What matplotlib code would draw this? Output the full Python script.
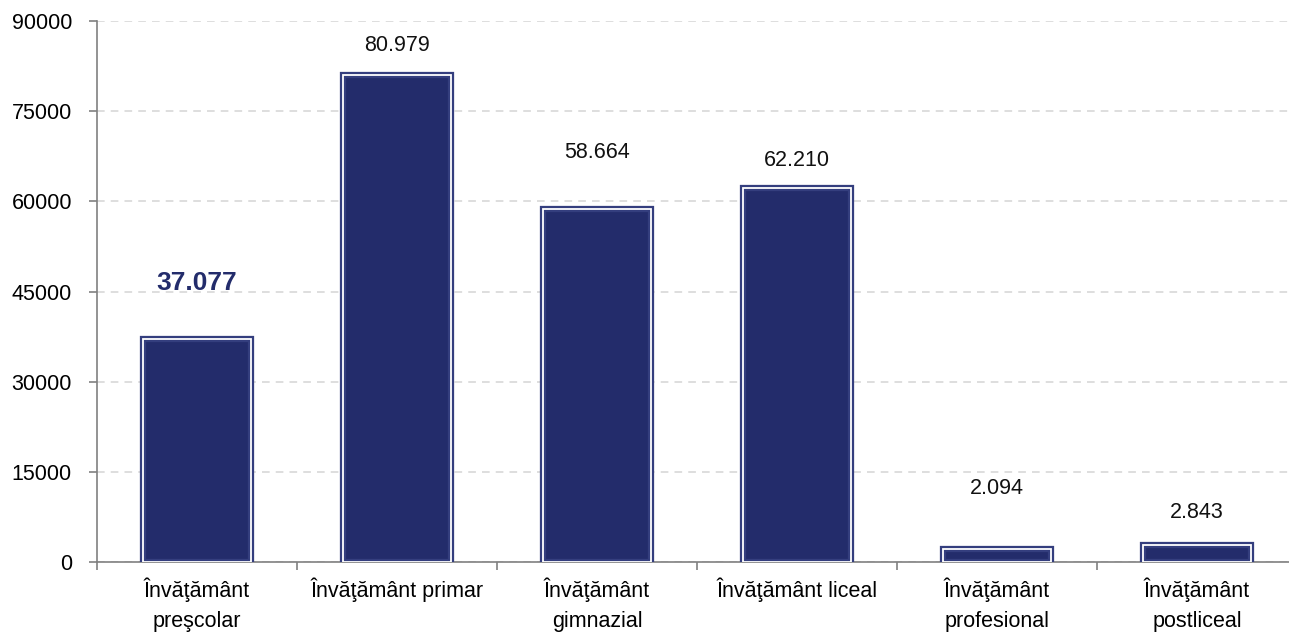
import numpy as np
import matplotlib.pyplot as plt

categories = ["Învăţământ\npreşcolar", "Învăţământ primar", "Învăţământ\ngimnazial",
              "Învăţământ liceal", "Învăţământ\nprofesional", "Învăţământ\npostliceal"]
values = [37077, 80979, 58664, 62210, 2094, 2843]
yticks = [0, 15000, 30000, 45000, 60000, 75000, 90000]

# label offsets above bar tops (pixels)
label_offset = [56, 30, 57, 28, 61, 32]

navy = '#232c6b'
plt.rcParams['font.family'] = ['Liberation Sans Narrow', 'Liberation Sans', 'DejaVu Sans']

fig = plt.figure(figsize=(12.89, 6.41), dpi=100)
ax = fig.add_axes([97 / 1289, 79 / 641, 1200 / 1289, 541 / 641])

x = np.arange(len(values))
ax.bar(x, values, 0.54, color=navy, edgecolor='#343e7e', linewidth=4.5, zorder=3)
ax.bar(x, values, 0.54, color='none', edgecolor='white', linewidth=1.3, zorder=4)

for i, v in enumerate(values):
    txt = f"{v:,}".replace(",", ".")
    if i == 0:
        ax.annotate(txt, (x[i], v), xytext=(0, label_offset[i]), textcoords='offset pixels',
                    ha='center', va='center', fontsize=19, fontweight='bold', color=navy)
    else:
        ax.annotate(txt, (x[i], v), xytext=(0, label_offset[i]), textcoords='offset pixels',
                    ha='center', va='center', fontsize=15.5, color='#111111')

ax.set_xlim(-0.5, len(values) - 0.5)
ax.set_ylim(0, 90000)
ax.set_yticks(yticks)
ax.set_yticklabels([str(t) for t in yticks], fontsize=15.5)
ax.set_xticks(x)
ax.set_xticklabels(categories, fontsize=15.5, linespacing=1.6)
ax.set_xticks(np.arange(-0.5, len(values) + 0.5, 1), minor=True)
ax.tick_params(axis='x', which='major', length=0, pad=11)
ax.tick_params(axis='x', which='minor', length=6, color='#808080', width=1.2)
ax.tick_params(axis='y', length=6, color='#808080', width=1.2, pad=12)

for s in ['top', 'right']:
    ax.spines[s].set_visible(False)
for s in ['left', 'bottom']:
    ax.spines[s].set_color('#808080')
    ax.spines[s].set_linewidth(1.2)

ax.yaxis.grid(True, linestyle=(0, (5, 4)), color='#d4d4d4', linewidth=1.1, zorder=0)
ax.set_axisbelow(True)

fig.savefig('out.png', dpi=100)
